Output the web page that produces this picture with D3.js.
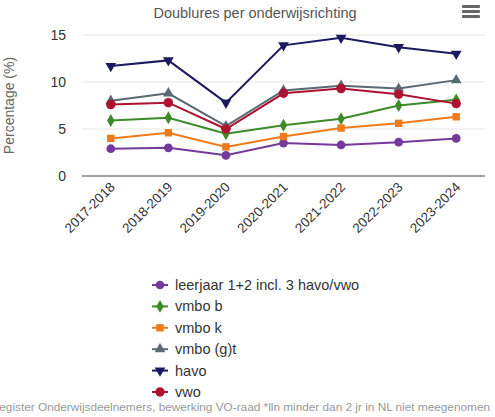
<!DOCTYPE html>
<html>
<head>
<meta charset="utf-8">
<script src="https://cdn.jsdelivr.net/npm/d3@7"></script>
<style>
  body { margin: 0; background: #fff; }
  svg { font-family: "Helvetica Neue", "Liberation Sans", Arial, sans-serif; }
</style>
</head>
<body>
<svg id="chart" width="495" height="417"></svg>
<script>
// schooljaren
var years = ["2017-2018", "2018-2019", "2019-2020", "2020-2021", "2021-2022", "2022-2023", "2023-2024"];
var seriesNames = ["leerjaar 1+2 incl. 3 havo/vwo", "vmbo b", "vmbo k", "vmbo (g)t", "havo", "vwo"];
var leerjaar = [2.9, 3.0, 2.2, 3.5, 3.3, 3.6, 4.0];
var vmboB = [5.9, 6.2, 4.5, 5.4, 6.1, 7.5, 8.1];
var vmboK = [4.0, 4.6, 3.1, 4.2, 5.1, 5.6, 6.3];
var vmboGT = [8.0, 8.8, 5.3, 9.1, 9.6, 9.3, 10.2];
var havo = [11.7, 12.3, 7.8, 13.9, 14.7, 13.7, 13.0];
var vwo = [7.6, 7.8, 5.0, 8.8, 9.3, 8.7, 7.7];
var yTicks = [0, 5, 10, 15];

var colors = ["#74399a", "#3c8a28", "#ef7a1a", "#5a6872", "#1c1a5e", "#ad1230"];
var symbols = [d3.symbolCircle, d3.symbolDiamond, d3.symbolSquare, d3.symbolTriangle, d3.symbolTriangle, d3.symbolCircle];
var flip = [false, false, false, false, true, false];
var sizes = [60, 48, 55, 50, 50, 70];

var series = [leerjaar, vmboB, vmboK, vmboGT, havo, vwo].map(function(v, i) {
  return { name: seriesNames[i], values: v, color: colors[i], symbol: symbols[i], flip: flip[i], size: sizes[i] };
});

var svg = d3.select("#chart");
var m = { left: 82, right: 485, top: 35, bottom: 176 };

var x = d3.scalePoint().domain(years).range([m.left, m.right]).padding(0.5);
var y = d3.scaleLinear().domain([0, 15]).range([m.bottom, m.top]);

// titel
svg.append("text")
  .attr("x", 255).attr("y", 18)
  .attr("text-anchor", "middle")
  .attr("fill", "#555")
  .style("font-size", "14.5px")
  .text("Doublures per onderwijsrichting");

// menu knop
[0, 5, 10].forEach(function(dy) {
  svg.append("rect")
    .attr("x", 462).attr("y", 5 + dy)
    .attr("width", 18).attr("height", 3)
    .attr("rx", 1)
    .attr("fill", "#666");
});

// grid
svg.append("g").selectAll("line")
  .data(yTicks.filter(function(t) { return t > 0; }))
  .join("line")
  .attr("x1", m.left).attr("x2", m.right)
  .attr("y1", function(d) { return y(d); })
  .attr("y2", function(d) { return y(d); })
  .attr("stroke", "#e6e6e6");

// y as labels
svg.append("g").selectAll("text")
  .data(yTicks)
  .join("text")
  .attr("x", 66)
  .attr("y", function(d) { return y(d) + 5; })
  .attr("text-anchor", "end")
  .attr("fill", "#333")
  .style("font-size", "14px")
  .text(function(d) { return d; });

svg.append("text")
  .attr("transform", "translate(14," + ((m.top + m.bottom) / 2) + ") rotate(-90)")
  .attr("text-anchor", "middle")
  .attr("fill", "#666")
  .style("font-size", "14px")
  .text("Percentage (%)");

// x as
svg.append("line")
  .attr("x1", m.left).attr("x2", m.right)
  .attr("y1", m.bottom).attr("y2", m.bottom)
  .attr("stroke", "#444");

svg.append("g").selectAll("text")
  .data(years)
  .join("text")
  .attr("transform", function(d) { return "translate(" + (x(d) + 5) + "," + (m.bottom + 12) + ") rotate(-45)"; })
  .attr("text-anchor", "end")
  .attr("fill", "#333")
  .style("font-size", "13.5px")
  .text(function(d) { return d; });

// lijnen
var line = d3.line()
  .x(function(d, i) { return x(years[i]); })
  .y(function(d) { return y(d); });

function drawSymbol(sel, s) {
  sel.attr("d", d3.symbol().type(s.symbol).size(s.size))
    .attr("fill", s.color);
}

series.forEach(function(s) {
  var g = svg.append("g");
  g.append("path")
    .attr("d", line(s.values))
    .attr("fill", "none")
    .attr("stroke", s.color)
    .attr("stroke-width", 2);
  g.selectAll("path.m")
    .data(s.values)
    .join("path")
    .attr("class", "m")
    .attr("transform", function(d, i) {
      return "translate(" + x(years[i]) + "," + y(d) + ")" + (s.flip ? " rotate(180)" : "");
    })
    .call(drawSymbol, s);
});

// legenda
var legend = svg.append("g");
series.forEach(function(s, i) {
  var ly = 285 + i * 21.4;
  legend.append("line")
    .attr("x1", 152).attr("x2", 168)
    .attr("y1", ly).attr("y2", ly)
    .attr("stroke", s.color).attr("stroke-width", 2);
  legend.append("path")
    .attr("transform", "translate(160," + ly + ")" + (s.flip ? " rotate(180)" : ""))
    .call(drawSymbol, s);
  legend.append("text")
    .attr("x", 175).attr("y", ly + 5)
    .attr("fill", "#333")
    .style("font-size", "14.5px")
    .text(s.name);
});

// bron
svg.append("text")
  .attr("x", 490).attr("y", 411)
  .attr("text-anchor", "end")
  .attr("fill", "#999")
  .style("font-size", "11.8px")
  .text("Bron: DUO, Register Onderwijsdeelnemers, bewerking VO-raad *lln minder dan 2 jr in NL niet meegenomen");
</script>
</body>
</html>
